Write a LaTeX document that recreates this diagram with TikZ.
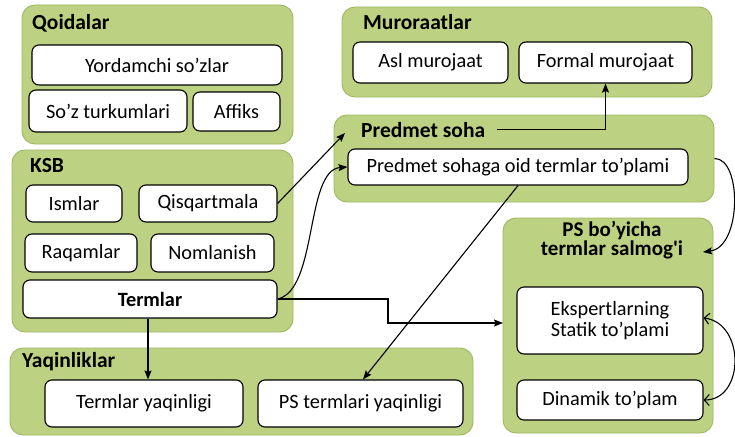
\documentclass[tikz,border=0pt]{standalone}
\usepackage{fontspec}
\setmainfont{Carlito}
\usetikzlibrary{arrows.meta,calc}
\definecolor{gfill}{HTML}{BDD182}
\definecolor{gdraw}{HTML}{9DB862}
\tikzset{
  sz/.style n args={2}{minimum width=#1pt, minimum height=#2pt},
  grp/.style={draw=gdraw, fill=gfill, line width=0.9pt, rounded corners=13pt, inner sep=0pt},
  box/.style={draw=black, fill=white, line width=1.1pt, rounded corners=7pt, inner sep=0pt,
    align=center, font=\fontsize{20.3}{20.5}\selectfont},
  ttl/.style={inner sep=0pt, anchor=base west, font=\bfseries\fontsize{21.5}{17.5}\selectfont},
  con/.style={line width=1.1pt, -{Stealth[length=9pt,width=7pt,inset=1.5pt]}},
  dbl/.style={line width=1.1pt, {Straight Barb[length=5pt,width=11pt]}-{Straight Barb[length=5pt,width=11pt]}},
}
\begin{document}
\begin{tikzpicture}[x=1pt,y=-1pt]
\useasboundingbox (0,0) rectangle (735,436);
\fill[white] (0,0) rectangle (735,436);

% group panels
\node[grp, sz={271}{139}] (qoi)  at (157.5,74.5) {};
\node[grp, sz={370}{90}]  (mur)  at (527,52) {};
\node[grp, sz={380}{87}]  (pred) at (524,158.5) {};
\node[grp, sz={281}{182}] (ksb)  at (152.5,241) {};
\node[grp, sz={463}{87}]  (yaq)  at (241.5,391.5) {};
\node[grp, sz={210}{215}] (ps)   at (608,325.5) {};

% panel titles
\node[ttl] (tqoi)  at (32,30)  {Qoidalar};
\node[ttl] (tmur)  at (363,30) {Muroraatlar};
\node[ttl] (tpred) at (361,137) {Predmet soha};
\node[ttl] (tksb)  at (30,172) {KSB};
\node[ttl] (tyaq)  at (22,367) {Yaqinliklar};
\node[inner sep=0pt, align=center, font=\bfseries\fontsize{21}{17.5}\selectfont] (tps) at (612,240)
  {PS bo’yicha\\termlar salmog\textquotesingle i};

% Qoidalar
\node[box, sz={250}{40}] (yord) at (157,65) {Yordamchi so’zlar};
\node[box, sz={158}{42}] (sozt) at (108,111) {So’z turkumlari};
\node[box, sz={87}{39}]  (aff)  at (236.5,111.5) {Affiks};

% Muroraatlar
\node[box, sz={155}{41}] (asl)    at (430.5,62.5) {Asl murojaat};
\node[box, sz={173}{41}] (formal) at (605.5,62.5) {Formal murojaat};

% Predmet soha
\node[box, sz={340}{36}] (pst) at (518,167) {Predmet sohaga oid termlar to’plami};

% KSB
\node[box, sz={96}{37}]  (ism)  at (74,203.5)  {Ismlar};
\node[box, sz={138}{37}] (qisq) at (208,203.5) {Qisqartmala};
\node[box, sz={112}{38}] (raq)  at (81,253)    {Raqamlar};
\node[box, sz={123}{38}] (nom)  at (212.5,253) {Nomlanish};
\node[box, sz={254}{38}, font=\bfseries\fontsize{20.3}{20.5}\selectfont] (term) at (150,299) {Termlar};

% PS bo'yicha termlar salmog'i
\node[box, sz={186}{67}] (eks) at (610,320.5) {Ekspertlarning\\Statik to’plami};
\node[box, sz={186}{40}] (din) at (610,400) {Dinamik to’plam};

% Yaqinliklar
\node[box, sz={198}{47}] (ty)  at (144,403.5) {Termlar yaqinligi};
\node[box, sz={205}{47}] (psy) at (360.5,403.5) {PS termlari yaqinligi};

% connector end points inside panels
\coordinate (predin) at (345,133);
\coordinate (psin)   at (503,323);
\coordinate (psarr)  at (703,252);

% connectors
\draw[con] (qisq.east) -- (predin);
\draw[con] (term.east) .. controls (318,290) and (305,170) .. (pst.west);
\draw[con] (term.east) -- (388,299) -- (388,323) -- (psin);
\draw[con] ([xshift=-2pt]term.south) -- ([xshift=4pt]ty.north);
\draw[con] (pst.south) -- ([xshift=2.5pt]psy.north);
\draw[con] ([xshift=12pt]tpred.east) -| (formal.south);
\draw[con] (pred.east) .. controls (742,158) and (742,247) .. (psarr);
\draw[dbl] ([yshift=2.5pt]eks.east) .. controls (745,323) and (745,400) .. (din.east);
\end{tikzpicture}
\end{document}
